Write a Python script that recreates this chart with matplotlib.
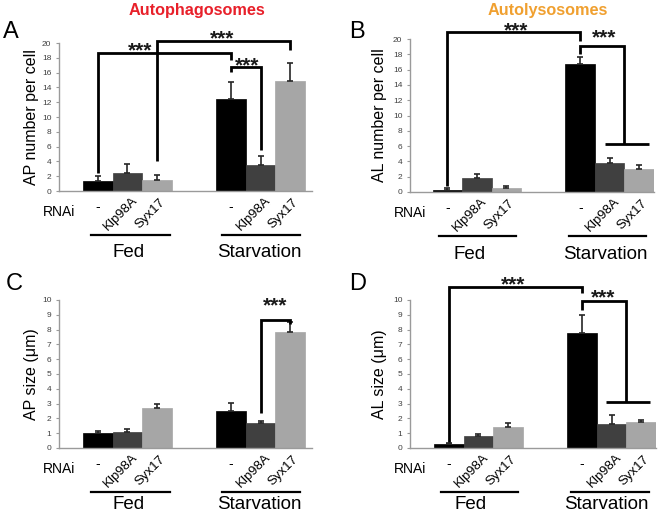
import numpy as np
import matplotlib
matplotlib.use('Agg')
import matplotlib.pyplot as plt
from matplotlib.transforms import offset_copy

plt.rcParams['font.family'] = ['Liberation Sans', 'DejaVu Sans']

W, H = 662, 514  # figure size in pixels (dpi 100)

# bar layout shared by all panels: Fed (3 bars) and Starvation (3 bars)
POSITIONS = [0, 1, 2, 4.5, 5.5, 6.5]
BAR_COLORS = ['#000000', '#404040', '#a6a6a6'] * 2
RNAI_LABELS = ['-', 'Klp98A', 'Syx17'] * 2
GROUPS = ['Fed', 'Starvation']

# A: AP number per cell
AP_NUMBER = [1.3, 2.45, 1.5, 12.4, 3.5, 14.8]
AP_NUMBER_ERR = [0.7, 1.25, 0.7, 2.3, 1.2, 2.5]
# B: AL number per cell
AL_NUMBER = [0.3, 1.85, 0.55, 16.7, 3.75, 3.0]
AL_NUMBER_ERR = [0.2, 0.55, 0.2, 0.9, 0.65, 0.55]
# C: AP size (um)
AP_SIZE = [1.0, 1.05, 2.72, 2.5, 1.72, 7.82]
AP_SIZE_ERR = [0.15, 0.23, 0.28, 0.53, 0.1, 0.68]
# D: AL size (um)
AL_SIZE = [0.28, 0.82, 1.45, 7.8, 1.65, 1.78]
AL_SIZE_ERR = [0.05, 0.1, 0.27, 1.2, 0.55, 0.14]

# significance brackets: (x_left, x_right, y_left_end, y_top, y_right_end)
A_BRACKETS = [(0, 4.5, 2.4, 18.7, 17.7), (2, 6.5, 4.0, 20.3, 19.0), (4.5, 5.5, 16.1, 16.8, 5.5)]
A_STARS = [(1.43, 19.7), (4.19, 21.3), (5.03, 17.7)]
B_BRACKETS = [(0, 4.5, 0.75, 20.9, 19.7), (4.5, 6.0, 18.0, 19.1, 6.3)]
B_TEES = [(5.34, 6.83, 6.3)]
B_STARS = [(2.32, 21.8), (5.31, 20.8)]
C_BRACKETS = [(5.5, 6.5, 2.35, 8.65, 8.35)]
C_STARS = [(5.99, 9.96)]
D_BRACKETS = [(0, 4.5, 0.4, 10.9, 10.45), (4.5, 6.0, 9.3, 9.9, 3.1)]
D_TEES = [(5.31, 6.80, 3.1)]
D_STARS = [(2.16, 11.4), (5.2, 10.5)]


def px_rect(left, right, top, bottom):
    return [left / W, 1 - bottom / H, (right - left) / W, (bottom - top) / H]


def draw_panel(fig, rect, xlim, values, errors, ymax, ylabel, label_x,
               brackets, stars, tees=(), group_x=(1.04, 5.45), group_dy=66,
               group_line=((-0.22, 2.45), (4.2, 6.85))):
    ax = fig.add_axes(rect)
    ax.bar(POSITIONS, values, width=1.0, color=BAR_COLORS, edgecolor=BAR_COLORS, linewidth=0.5)
    ax.errorbar(POSITIONS, values, yerr=[np.zeros(len(values)), errors], fmt='none',
                ecolor='#262626', elinewidth=1.2, capsize=2, capthick=1.2)
    ax.set_xlim(*xlim)
    ax.set_ylim(0, ymax)
    ax.set_yticks(np.arange(0, ymax + 1, 2 if ymax > 10 else 1))
    ax.set_xticks([])
    for s in ['top', 'right']:
        ax.spines[s].set_visible(False)
    for s in ['left', 'bottom']:
        ax.spines[s].set_color('#9a9a9a')
        ax.spines[s].set_linewidth(1.0)
    ax.tick_params(axis='y', direction='out', length=2.5, width=0.8, color='#9a9a9a',
                   labelsize=6, labelcolor='#404040', pad=3)
    ax.set_ylabel(ylabel, fontsize=11.5)
    ax.yaxis.set_label_coords(label_x, 0.5)

    # brackets
    for x0, x1, yl, yt, yr in brackets:
        ax.plot([x0, x0, x1, x1], [yl, yt, yt, yr], color='black', lw=2.0,
                clip_on=False, solid_joinstyle='miter', solid_capstyle='butt')
    for x0, x1, y in tees:
        ax.plot([x0, x1], [y, y], color='black', lw=2.0, clip_on=False, solid_capstyle='butt')
    star_tr = offset_copy(ax.transData, fig=fig, y=-11, units='dots')
    for x, y in stars:
        ax.text(x, y, '***', transform=star_tr, ha='center', va='baseline',
                fontsize=15, fontweight='bold', color='#1a1a1a', clip_on=False)

    # RNAi labels under bars
    xt = ax.get_xaxis_transform()
    for x, lab in zip(POSITIONS, RNAI_LABELS):
        if lab == '-':
            tr = offset_copy(xt, fig=fig, x=0, y=-16, units='dots')
            ax.text(x, 0, lab, transform=tr, ha='center', va='center', fontsize=10)
        else:
            tr = offset_copy(xt, fig=fig, x=-7, y=-23, units='dots')
            ax.text(x, 0, lab, transform=tr, rotation=45, ha='center', va='center',
                    fontsize=9.5)
    tr = offset_copy(ax.transAxes, fig=fig, y=-21, units='dots')
    ax.text(0, 0, 'RNAi', transform=tr, ha='center', va='center', fontsize=10)

    # group lines and labels
    line_tr = offset_copy(xt, fig=fig, y=-44, units='dots')
    for (x0, x1) in group_line:
        ax.plot([x0, x1], [0, 0], color='black', lw=1.6, transform=line_tr, clip_on=False)
    grp_tr = offset_copy(xt, fig=fig, y=-group_dy, units='dots')
    for gx, g in zip(group_x, GROUPS):
        ax.text(gx, 0, g, transform=grp_tr, ha='center', va='baseline', fontsize=13.5)
    return ax


fig = plt.figure(figsize=(W / 100, H / 100), dpi=100)

draw_panel(fig, px_rect(59, 312, 43, 191), (-1.31, 7.24), AP_NUMBER, AP_NUMBER_ERR, 20,
           'AP number per cell', -0.079, A_BRACKETS, A_STARS)
draw_panel(fig, px_rect(410, 654, 39, 192), (-1.27, 7.0), AL_NUMBER, AL_NUMBER_ERR, 20,
           'AL number per cell', -0.094, B_BRACKETS, B_STARS, B_TEES,
           group_x=(0.75, 5.34), group_dy=67, group_line=((-0.29, 2.32), (4.12, 6.73)))
draw_panel(fig, px_rect(59, 312, 300, 448), (-1.31, 7.24), AP_SIZE, AP_SIZE_ERR, 10,
           'AP size (\u03bcm)', -0.079, C_BRACKETS, C_STARS, group_dy=61)
draw_panel(fig, px_rect(410, 656, 300, 448), (-1.31, 7.0), AL_SIZE, AL_SIZE_ERR, 10,
           'AL size (\u03bcm)', -0.093, D_BRACKETS, D_STARS, D_TEES,
           group_x=(0.75, 5.34), group_dy=61, group_line=((-0.26, 2.34), (4.13, 6.76)))

# panel letters
for letter, x, y in [('A', 3, 38), ('B', 349, 38), ('C', 6, 290), ('D', 349, 290)]:
    fig.text(x / W, 1 - y / H, letter, fontsize=17, ha='left', va='baseline')

# titles
fig.text(197 / W, 1 - 15 / H, 'Autophagosomes', color='#e8202a', fontsize=11.7,
         fontweight='bold', ha='center', va='baseline')
fig.text(548 / W, 1 - 15 / H, 'Autolysosomes', color='#f0a030', fontsize=11.7,
         fontweight='bold', ha='center', va='baseline')

fig.savefig('out.png', dpi=100)
